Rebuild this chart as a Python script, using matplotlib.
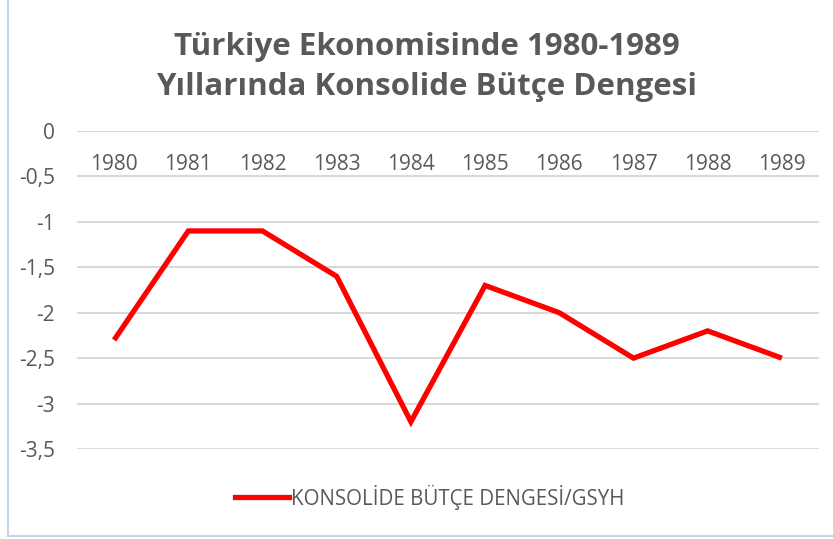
import matplotlib.pyplot as plt
from matplotlib.lines import Line2D

# data
years = ['1980', '1981', '1982', '1983', '1984', '1985', '1986', '1987', '1988', '1989']
budget_balance = [-2.3, -1.1, -1.1, -1.6, -3.2, -1.7, -2.0, -2.5, -2.2, -2.5]
y_ticks = [0, -0.5, -1, -1.5, -2, -2.5, -3, -3.5]
series_name = 'KONSOLİDE BÜTÇE DENGESİ/GSYH'
title = 'Türkiye Ekonomisinde 1980-1989\nYıllarında Konsolide Bütçe Dengesi'

TXT = '#595959'
W, H = 833, 539

plt.rcParams['font.family'] = ['Open Sans', 'DejaVu Sans']

fig = plt.figure(figsize=(W / 100, H / 100), dpi=100)
fig.patch.set_facecolor('white')

# plot area in pixel coords
left, right, top, bottom = 77, 819, 131, 449
ax = fig.add_axes([left / W, 1 - bottom / H, (right - left) / W, (bottom - top) / H])

x = list(range(len(years)))
ax.plot(x, budget_balance, color='#FF0000', lw=3.8, solid_joinstyle='miter',
        solid_capstyle='butt', zorder=3)

ax.set_xlim(-0.5, len(years) - 0.5)
ax.set_ylim(-3.5, 0)
ax.set_yticks(y_ticks)
ax.set_yticklabels([('%g' % v).replace('.', ',') for v in y_ticks], color=TXT, fontsize=15)
ax.yaxis.grid(True, color='#D9D9D9', lw=1.5)
ax.set_axisbelow(True)

ax.set_xticks(x)
ax.set_xticklabels(years, color=TXT, fontsize=15)
ax.tick_params(axis='x', length=0, labeltop=True, labelbottom=False, pad=-32)
ax.tick_params(axis='y', length=0, pad=16)
for s in ax.spines.values():
    s.set_visible(False)

fig.text(427 / W, 1 - 67 / H, title, ha='center', va='center', fontsize=22.5,
         fontweight='bold', color=TXT, linespacing=1.42)

handle = Line2D([], [], color='#FF0000', lw=3.8)
fig.legend([handle], [series_name], loc='center', bbox_to_anchor=(430 / W, 1 - 497 / H),
           frameon=False, fontsize=14.8, labelcolor=TXT, handlelength=2.6,
           handletextpad=0.12)

# chart border (light blue)
fig.add_artist(Line2D([8 / W, 8 / W], [1 - 536 / H, 1.0], color='#BDD7EE', lw=1.5))
fig.add_artist(Line2D([8 / W, 1.0], [1 - 536 / H, 1 - 536 / H], color='#BDD7EE', lw=1.5))

fig.savefig('out.png', dpi=100, facecolor='white')
